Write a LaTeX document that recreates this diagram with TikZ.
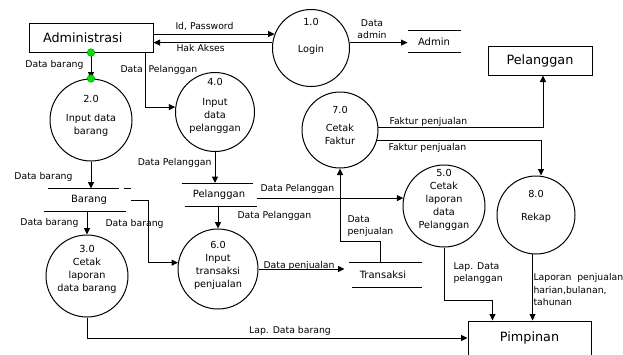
\documentclass[tikz,border=0pt]{standalone}
\usepackage{fontspec}
\setmainfont{DejaVu Sans}
\usetikzlibrary{arrows.meta}
\definecolor{dotgreen}{RGB}{0,230,0}

\begin{document}
\begin{tikzpicture}[x=1pt,y=-1pt,line width=1pt,
    proses/.style={draw,circle,inner sep=0pt,minimum size=#1},
    ptext/.style={align=center,inner sep=0pt,font=\fontsize{9.7}{13}\selectfont},
    entitas/.style={draw,minimum width=124pt,minimum height=29pt,font=\fontsize{12.8}{15}\selectfont},
    simpan/.style={inner sep=0pt,font=\fontsize{10}{12}\selectfont},
    ket/.style={inner sep=0pt,align=left,font=\fontsize{9.3}{12.5}\selectfont},
    alir/.style={-{Triangle[length=6.5pt,width=6pt]}}]
    \useasboundingbox (0,0) rectangle (623,354);
    % entitas luar
    \node[entitas,text width=108pt,align=left] (adm) at (91,37.5) {\hspace{6pt}Administrasi};
    \node[entitas,minimum width=104pt] (pel) at (540,60.5) {Pelanggan};
    \node[entitas,minimum width=123pt,minimum height=34pt] (pim) at (529.5,338) {\raisebox{2pt}{Pimpinan}};
    % proses
    \node[proses=77pt] (p1) at (311,48) {};
    \node[ptext] (t1) at (311,36.5) {1.0\\[14pt]Login};
    \node[proses=82pt] (p2) at (91,120) {};
    \node[ptext] (t2) at (91,115.5) {2.0\\[6pt]Input data\\barang};
    \node[proses=82pt] (p3) at (87,276) {};
    \node[ptext] (t3) at (87,269.5) {3.0\\Cetak\\laporan\\data barang};
    \node[proses=79pt] (p4) at (215,112) {};
    \node[ptext] (t4) at (215,105.5) {4.0\\[7pt]Input\\data\\pelanggan};
    \node[proses=82pt] (p5) at (444,206) {};
    \node[ptext] (t5) at (444,200) {5.0\\Cetak\\laporan\\data\\Pelanggan};
    \node[proses=80pt] (p6) at (218,269) {};
    \node[ptext] (t6) at (218,265.5) {6.0\\Input\\transaksi\\penjualan};
    \node[proses=76pt] (p7) at (340,130) {};
    \node[ptext] (t7) at (340,125) {7.0\\[5pt]Cetak\\Faktur};
    \node[proses=78pt] (p8) at (536,215) {};
    \node[ptext] (t8) at (536,206.5) {8.0\\[10pt]Rekap};
    % data store
    \node[simpan,minimum width=52pt,minimum height=21pt] (ast) at (434,41.5) {Admin};
    \draw (ast.north west) -- (ast.north east) (ast.south west) -- (ast.south east);
    \node[simpan,minimum width=82pt,minimum height=22pt] (bar) at (89,200) {Barang};
    \draw (bar.north west) -- ([xshift=-12pt]bar.north east) ([xshift=-7pt]bar.north east) -- (bar.north east)
          ([xshift=-4pt]bar.south west) -- ([xshift=-5pt]bar.south east);
    \node[simpan,minimum width=74pt,minimum height=22pt] (pst) at (219,194.5) {Pelanggan};
    \draw (pst.north west) -- ([xshift=-4pt]pst.north east) ([xshift=3pt]pst.south west) -- (pst.south east);
    \node[simpan,minimum width=76pt,minimum height=24pt] (trs) at (383,275) {Transaksi};
    \draw ([xshift=4pt]trs.north west) -- (trs.north east) ([xshift=7pt]trs.south west) -- (trs.south east);
    % aliran data
    \draw[alir] (adm.east |- p1.159) -- (p1.159);
    \draw[alir] (p1.172) -- (adm.east |- p1.172);
    \draw[alir] (p1.8) -- (p1.8 -| ast.west);
    \draw[alir] (adm.south) -- (p2.north);
    \filldraw[fill=dotgreen,draw=green!50!black,line width=0.4pt] (adm.south) circle (3.8pt) (p2.north) circle (3.8pt);
    \draw[alir] ([xshift=-8pt]adm.south east) |- (p4.173);
    \draw[alir] (p2.south) -- (p2.south |- bar.north);
    \draw[alir] (bar.south -| p3) -- (p3.north);
    \draw[alir] (bar.east) -- ++(18,0) |- (p6.171);
    \draw[alir] (p3.south) |- (pim.west);
    \draw[alir] (p4.south) -- (p4.south |- pst.north);
    \draw[alir] (pst.east |- p5.169) -- (p5.169);
    \draw[alir] (pst.south -| p6) -- (p6.north);
    \draw[alir] (p6.east) -- (p6.east -| trs.west);
    \draw[alir] ([xshift=-3pt]trs.north) -- ++(0,-21) -| (p7.south);
    \draw[alir] (p7.3) -| ([xshift=3pt]pel.south);
    \draw[alir] (p7.-16) -| ([xshift=5pt]p8.north);
    \draw[alir] (p5.south) -- ++(0,53) -| ([xshift=-37pt]pim.north);
    \draw[alir] (p8.265) -- (p8.265 |- pim.north);
    % keterangan
    \node[ket,anchor=west] (k1) at (175,27) {Id, Password};
    \node[ket,anchor=west] (k2) at (176,48) {Hak Akses};
    \node[ket,align=center] (k3) at (372,29) {Data\\admin};
    \node[ket,anchor=east] (k4) at (84,65) {Data barang};
    \node[ket,anchor=west] (k5) at (120,70) {Data\ \ Pelanggan};
    \node[ket,anchor=east] (k6) at (73,177) {Data barang};
    \node[ket,anchor=east] (k7) at (79,223) {Data barang};
    \node[ket,anchor=west] (k8) at (105,224) {Data barang};
    \node[ket,anchor=east] (k9) at (212,163) {Data Pelanggan};
    \node[ket,anchor=west] (k10) at (260,189) {Data Pelanggan};
    \node[ket,anchor=west] (k11) at (237,216) {Data Pelanggan};
    \node[ket,anchor=west] (k12) at (263,266) {Data penjualan};
    \node[ket,anchor=west] (k13) at (347,226) {Data\\penjualan};
    \node[ket,anchor=west] (k14) at (389,122) {Faktur penjualan};
    \node[ket,anchor=west] (k15) at (388,148) {Faktur penjualan};
    \node[ket,anchor=west] (k16) at (453,273) {Lap. Data\\pelanggan};
    \node[ket,anchor=west] (k17) at (533,290) {Laporan\ \ penjualan\\harian,bulanan,\\tahunan};
    \node[ket] (k18) at (290,331) {Lap. Data barang};
\end{tikzpicture}
\end{document}
